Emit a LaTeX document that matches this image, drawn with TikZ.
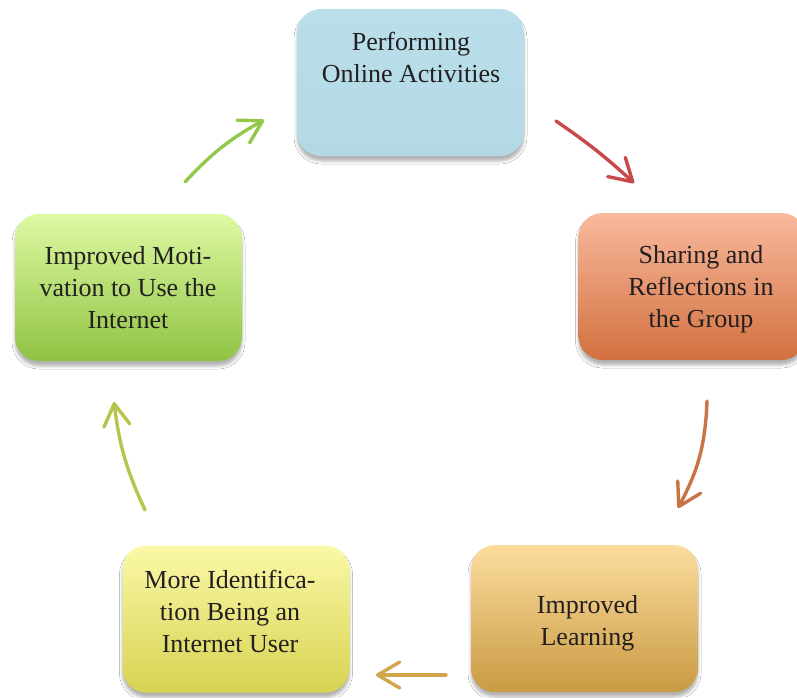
\documentclass[tikz,border=0pt]{standalone}
\usepackage{fontspec}
\setmainfont{Liberation Serif}
\usetikzlibrary{arrows.meta,shadows.blur}
\definecolor{txt}{HTML}{231F20}
\definecolor{blueA}{HTML}{BADFEA}
\definecolor{blueB}{HTML}{B2D9E4}
\definecolor{redA}{HTML}{F9BA9D}
\definecolor{redB}{HTML}{D2703F}
\definecolor{goldA}{HTML}{FCDC9E}
\definecolor{goldB}{HTML}{C99B43}
\definecolor{yelA}{HTML}{FBF8A8}
\definecolor{yelB}{HTML}{D6D352}
\definecolor{grnA}{HTML}{DEF9A3}
\definecolor{grnB}{HTML}{8FC342}
\definecolor{arG}{HTML}{93C84A}
\definecolor{arR}{HTML}{C9494B}
\definecolor{arO}{HTML}{C87444}
\definecolor{arY}{HTML}{D2A64C}
\definecolor{arL}{HTML}{B8C44E}
\begin{document}
\begin{tikzpicture}[x=1pt,y=-1pt,
  box/.style={rounded corners=24pt, minimum width=227pt, minimum height=147pt,
    inner sep=0pt,
    blur shadow={shadow xshift=0pt, shadow yshift=-5pt, shadow blur radius=3pt, shadow opacity=30}},
  lbl/.style={font=\fontsize{26}{32}\selectfont, align=center, inner sep=0pt,
    anchor=north, text=txt},
  arr/.style={line width=3.4pt, line cap=round,
    -{Straight Barb[length=22pt,width=26pt,round]}}]
\useasboundingbox (0,0) rectangle (797,697);
\fill[white] (0,0) rectangle (797,697);
% boxes
\node[box, top color=blueA, bottom color=blueB] (b1) at (410.5,82.5) {};
\node[box, top color=redA, bottom color=redB] (b2) at (692,286.5) {};
\node[box, top color=goldA, bottom color=goldB] (b3) at (584.5,618.5) {};
\node[box, top color=yelA, bottom color=yelB] (b4) at (236,619) {};
\node[box, top color=grnA, bottom color=grnB] (b5) at (128.5,287.5) {};
% labels
\node[lbl] (t1) at (411,32) {Performing\\Online Activities};
\node[lbl] (t2) at (701,245) {Sharing and\\Reflections in\\the Group};
\node[lbl] (t3) at (587.5,595) {Improved\\Learning};
\node[lbl] (t4) at (230,570) {More Identifica-\\tion Being an\\Internet User};
\node[lbl] (t5) at (128,246) {Improved Moti-\\vation to Use the\\Internet};
% arrow end points
\coordinate (g1) at (185,182); \coordinate (g2) at (264,120);
\coordinate (r1) at (556,121); \coordinate (r2) at (634,183);
\coordinate (o1) at (707,401); \coordinate (o2) at (678,508);
\coordinate (y1) at (446,675); \coordinate (y2) at (376,675);
\coordinate (l1) at (145,510); \coordinate (l2) at (114,402);
\draw[arr, arG] (g1) to[bend left=9] (g2);
\draw[arr, arR] (r1) to[bend left=4] (r2);
\draw[arr, arO] (o1) to[bend left=13] (o2);
\draw[arr, arY] (y1) -- (y2);
\draw[arr, arL] (l1) to[bend left=9] (l2);
\end{tikzpicture}
\end{document}
